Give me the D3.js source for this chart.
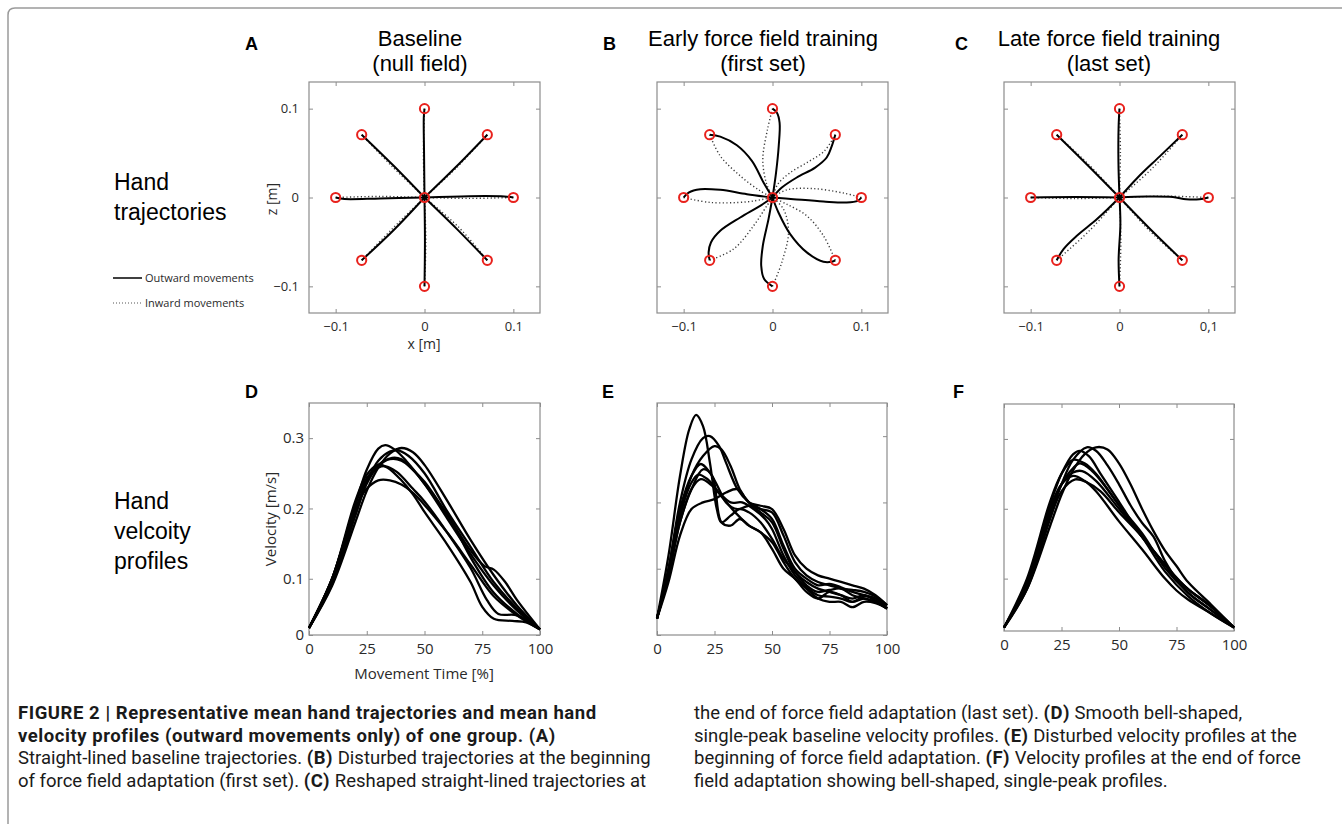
<!DOCTYPE html>
<html>
<head>
<meta charset="utf-8">
<script src="https://d3js.org/d3.v7.min.js"></script>
<style>
  body { margin: 0; background: #fff; }
  svg { display: block; }
</style>
</head>
<body>
<div id="chart"></div>
<script>
// ---- data ----
// targets in metres: centre + 8 around it
const targets = [[0, 0], [0, 0.1], [0.0707, 0.0707], [0.1, 0], [0.0707, -0.0707],
  [0, -0.1], [-0.0707, -0.0707], [-0.1, 0], [-0.0707, 0.0707]]

const trajTicks = [-0.1, 0, 0.1]
const trajLabels = ['\u22120.1', '0', '0.1']
const trajLabelsC = ['\u22120.1', '0', '0,1']

// A: baseline, outward (solid) and inward (dotted)
const outwardA = [
  [[0, 0], [-0.0005, 0.05], [-0.0008, 0.09], [0, 0.1]],
  [[0, 0], [0.035, 0.034], [0.0707, 0.0707]],
  [[0, 0], [0.05, 0.0015], [0.09, 0.0012], [0.1, 0]],
  [[0, 0], [0.036, -0.035], [0.0707, -0.0707]],
  [[0, 0], [0.0005, -0.05], [0, -0.1]],
  [[0, 0], [-0.034, -0.036], [-0.0707, -0.0707]],
  [[0, 0], [-0.05, -0.001], [-0.09, -0.0017], [-0.1, 0]],
  [[0, 0], [-0.035, 0.036], [-0.0707, 0.0707]]
]
const inwardA = [
  [[0, 0.1], [-0.0012, 0.05], [0, 0]],
  [[0.0707, 0.0707], [0.036, 0.0335], [0, 0]],
  [[0.1, 0], [0.05, -0.001], [0, 0]],
  [[0.0707, -0.0707], [0.038, -0.033], [0, 0]],
  [[0, -0.1], [0.0015, -0.05], [0, 0]],
  [[-0.0707, -0.0707], [-0.0355, -0.0345], [0, 0]],
  [[-0.1, 0], [-0.05, 0.0012], [0, 0]],
  [[-0.0707, 0.0707], [-0.0365, 0.035], [0, 0]]
]

// B: early force field
const outwardB = [
  [[0, 0], [0.004, 0.028], [0.007, 0.058], [0.008, 0.084], [0.005, 0.0955], [0, 0.1]],
  [[0, 0], [0.0105, 0.0112], [0.0273, 0.0225], [0.048, 0.0337], [0.061, 0.045], [0.0667, 0.0579], [0.0707, 0.0707]],
  [[0, 0], [0.0236, -0.0019], [0.0573, -0.0045], [0.0835, -0.0056], [0.0959, -0.0037], [0.1, 0]],
  [[0, 0], [0.0067, -0.0169], [0.0199, -0.0412], [0.0386, -0.0618], [0.0573, -0.0723], [0.0667, -0.0723], [0.0707, -0.0707]],
  [[0, 0], [-0.0045, -0.0243], [-0.0109, -0.0543], [-0.0127, -0.0768], [-0.0094, -0.0918], [0, -0.1]],
  [[0, 0], [-0.0139, -0.0094], [-0.0363, -0.0225], [-0.0588, -0.0375], [-0.0693, -0.0506], [-0.0719, -0.0618], [-0.0707, -0.0707]],
  [[0, 0], [-0.0288, 0.0037], [-0.0588, 0.0086], [-0.0813, 0.0094], [-0.0944, 0.0056], [-0.1, 0]],
  [[0, 0], [-0.0101, 0.0169], [-0.0232, 0.0412], [-0.0401, 0.0588], [-0.0588, 0.0685], [-0.0707, 0.0707]]
]
const inwardB = [
  [[0, 0.1], [-0.0056, 0.0768], [-0.0109, 0.0431], [-0.0071, 0.0169], [0, 0]],
  [[0.0707, 0.0707], [0.058, 0.052], [0.04, 0.04], [0.02, 0.028], [0.006, 0.015], [0, 0]],
  [[0.1, 0], [0.08, 0.005], [0.046, 0.01], [0.016, 0.0086], [0, 0]],
  [[0.0707, -0.0707], [0.0573, -0.043], [0.0386, -0.0206], [0.016, -0.0075], [0, 0]],
  [[0, -0.1], [0.0105, -0.073], [0.018, -0.039], [0.0124, -0.0131], [0, 0]],
  [[-0.0707, -0.0707], [-0.0438, -0.058], [-0.0213, -0.0318], [-0.0064, -0.0094], [0, 0]],
  [[-0.1, 0], [-0.07, -0.0056], [-0.0288, -0.0049], [-0.01, -0.0019], [0, 0]],
  [[-0.0707, 0.0707], [-0.0588, 0.0468], [-0.0363, 0.0243], [-0.0139, 0.0075], [0, 0]]
]

// C: late force field
const outwardC = [
  [[0, 0], [-0.0012, 0.04], [-0.001, 0.08], [0, 0.1]],
  [[0, 0], [0.02, 0.022], [0.045, 0.046], [0.0707, 0.0707]],
  [[0, 0], [0.03, 0.001], [0.06, 0.0005], [0.075, -0.002], [0.09, -0.002], [0.1, 0]],
  [[0, 0], [0.035, -0.036], [0.0707, -0.0707]],
  [[0, 0], [0.001, -0.03], [-0.001, -0.07], [0, -0.1]],
  [[0, 0], [-0.025, -0.024], [-0.048, -0.043], [-0.063, -0.058], [-0.0707, -0.0707]],
  [[0, 0], [-0.05, 0.0005], [-0.1, 0]],
  [[0, 0], [-0.035, 0.0355], [-0.0707, 0.0707]]
]
const inwardC = [
  [[0, 0.1], [0.001, 0.05], [0, 0]],
  [[0.0707, 0.0707], [0.037, 0.033], [0, 0]],
  [[0.1, 0], [0.05, 0.0015], [0, 0]],
  [[0.0707, -0.0707], [0.034, -0.0375], [0, 0]],
  [[0, -0.1], [0.0015, -0.05], [0, 0]],
  [[-0.0707, -0.0707], [-0.034, -0.0375], [0, 0]],
  [[-0.1, 0], [-0.05, -0.0012], [0, 0]],
  [[-0.0707, 0.0707], [-0.0345, 0.037], [0, 0]]
]

const timeTicks = [0, 25, 50, 75, 100]
const velTicks = [0.1, 0.2, 0.3]

// velocity profiles [time %, m/s]
const velD = [
  [[0, 0.03], [10, 0.10], [20, 0.205], [25, 0.255], [30, 0.285], [33, 0.29], [37, 0.284], [42, 0.268], [50, 0.235], [60, 0.185], [70, 0.135], [80, 0.09], [90, 0.055], [100, 0.028]],
  [[0, 0.03], [10, 0.09], [20, 0.18], [25, 0.225], [30, 0.258], [35, 0.278], [40, 0.286], [45, 0.28], [50, 0.262], [60, 0.21], [70, 0.155], [80, 0.105], [90, 0.062], [100, 0.028]],
  [[0, 0.03], [10, 0.095], [20, 0.19], [25, 0.238], [30, 0.268], [35, 0.281], [38, 0.283], [43, 0.275], [50, 0.25], [60, 0.195], [70, 0.145], [80, 0.095], [90, 0.058], [100, 0.028]],
  [[0, 0.03], [10, 0.095], [20, 0.195], [25, 0.24], [30, 0.262], [36, 0.272], [40, 0.27], [45, 0.255], [50, 0.235], [60, 0.19], [70, 0.14], [76, 0.118], [80, 0.113], [85, 0.095], [90, 0.07], [100, 0.028]],
  [[0, 0.03], [10, 0.10], [20, 0.205], [25, 0.243], [30, 0.258], [33, 0.26], [38, 0.252], [45, 0.228], [50, 0.21], [60, 0.165], [70, 0.115], [77, 0.07], [82, 0.05], [90, 0.048], [100, 0.028]],
  [[0, 0.03], [10, 0.10], [20, 0.21], [25, 0.248], [30, 0.262], [34, 0.258], [40, 0.24], [45, 0.22], [50, 0.195], [60, 0.148], [70, 0.095], [75, 0.06], [80, 0.043], [88, 0.04], [94, 0.038], [100, 0.028]],
  [[0, 0.03], [10, 0.10], [20, 0.2], [25, 0.228], [30, 0.24], [35, 0.24], [40, 0.234], [45, 0.222], [50, 0.205], [60, 0.165], [70, 0.12], [80, 0.075], [90, 0.048], [100, 0.028]],
  [[0, 0.03], [10, 0.092], [20, 0.19], [25, 0.235], [30, 0.26], [35, 0.27], [40, 0.268], [45, 0.255], [50, 0.238], [55, 0.215], [62, 0.18], [70, 0.13], [80, 0.08], [90, 0.05], [100, 0.028]]
]
const velE = [
  [[0, 0.025], [5, 0.12], [10, 0.24], [14, 0.31], [17, 0.332], [20, 0.315], [23, 0.26], [26, 0.19], [28, 0.17], [32, 0.18], [36, 0.19], [40, 0.185], [45, 0.17], [50, 0.145], [55, 0.115], [60, 0.095], [65, 0.075], [70, 0.065], [75, 0.068], [80, 0.07], [85, 0.06], [90, 0.055], [95, 0.05], [100, 0.04]],
  [[0, 0.025], [5, 0.1], [10, 0.2], [15, 0.265], [20, 0.297], [23, 0.3], [27, 0.285], [30, 0.26], [35, 0.22], [40, 0.2], [45, 0.19], [50, 0.175], [55, 0.135], [60, 0.1], [65, 0.085], [70, 0.075], [75, 0.077], [80, 0.072], [85, 0.065], [90, 0.06], [95, 0.055], [100, 0.045]],
  [[0, 0.025], [5, 0.09], [10, 0.18], [15, 0.24], [20, 0.27], [25, 0.285], [28, 0.28], [32, 0.255], [36, 0.22], [40, 0.2], [45, 0.185], [50, 0.17], [55, 0.13], [60, 0.095], [65, 0.08], [70, 0.07], [75, 0.065], [80, 0.06], [85, 0.055], [90, 0.06], [95, 0.052], [100, 0.04]],
  [[0, 0.025], [5, 0.1], [10, 0.19], [15, 0.24], [19, 0.258], [23, 0.245], [27, 0.22], [30, 0.2], [35, 0.19], [40, 0.195], [45, 0.19], [50, 0.185], [55, 0.15], [60, 0.11], [65, 0.09], [70, 0.08], [75, 0.075], [80, 0.07], [85, 0.068], [90, 0.065], [95, 0.058], [100, 0.045]],
  [[0, 0.025], [5, 0.095], [10, 0.18], [15, 0.23], [18, 0.242], [22, 0.235], [27, 0.215], [32, 0.2], [37, 0.2], [42, 0.19], [47, 0.175], [50, 0.16], [55, 0.12], [60, 0.09], [65, 0.072], [70, 0.06], [75, 0.058], [80, 0.055], [85, 0.05], [90, 0.058], [95, 0.055], [100, 0.04]],
  [[0, 0.025], [5, 0.09], [10, 0.17], [15, 0.22], [19, 0.235], [24, 0.225], [29, 0.205], [34, 0.185], [40, 0.165], [45, 0.155], [50, 0.13], [55, 0.1], [60, 0.085], [65, 0.065], [70, 0.055], [75, 0.065], [80, 0.06], [85, 0.05], [90, 0.055], [95, 0.05], [100, 0.04]],
  [[0, 0.025], [5, 0.08], [10, 0.15], [15, 0.19], [20, 0.2], [25, 0.205], [30, 0.215], [35, 0.22], [40, 0.2], [45, 0.195], [50, 0.19], [55, 0.16], [60, 0.12], [65, 0.1], [70, 0.09], [75, 0.085], [80, 0.08], [85, 0.075], [90, 0.07], [95, 0.06], [100, 0.045]],
  [[0, 0.025], [5, 0.09], [10, 0.17], [15, 0.22], [20, 0.25], [24, 0.24], [28, 0.17], [32, 0.165], [36, 0.175], [40, 0.165], [45, 0.155], [50, 0.14], [55, 0.11], [60, 0.085], [65, 0.07], [70, 0.055], [75, 0.05], [80, 0.05], [85, 0.042], [90, 0.05], [95, 0.048], [100, 0.04]]
]
const velF = [
  [[0, 0.03], [10, 0.085], [20, 0.175], [25, 0.22], [30, 0.255], [35, 0.278], [40, 0.288], [45, 0.285], [50, 0.265], [55, 0.235], [60, 0.2], [65, 0.168], [70, 0.14], [75, 0.118], [80, 0.095], [90, 0.063], [100, 0.03]],
  [[0, 0.03], [10, 0.09], [20, 0.19], [25, 0.235], [30, 0.27], [36, 0.288], [40, 0.283], [45, 0.262], [50, 0.235], [55, 0.205], [60, 0.18], [65, 0.16], [70, 0.125], [75, 0.1], [80, 0.085], [90, 0.06], [100, 0.03]],
  [[0, 0.03], [10, 0.095], [20, 0.205], [25, 0.25], [30, 0.278], [33, 0.283], [37, 0.275], [42, 0.25], [50, 0.21], [60, 0.16], [70, 0.12], [75, 0.1], [80, 0.085], [90, 0.06], [100, 0.03]],
  [[0, 0.03], [10, 0.1], [20, 0.21], [25, 0.25], [30, 0.27], [35, 0.265], [40, 0.25], [50, 0.205], [60, 0.165], [70, 0.115], [80, 0.08], [90, 0.055], [100, 0.03]],
  [[0, 0.03], [10, 0.09], [20, 0.19], [25, 0.235], [30, 0.258], [33, 0.265], [38, 0.255], [45, 0.228], [50, 0.205], [60, 0.16], [70, 0.11], [80, 0.075], [90, 0.05], [100, 0.03]],
  [[0, 0.03], [10, 0.092], [20, 0.195], [25, 0.235], [30, 0.252], [34, 0.254], [40, 0.24], [50, 0.2], [60, 0.16], [70, 0.12], [80, 0.08], [90, 0.055], [100, 0.03]],
  [[0, 0.03], [10, 0.095], [20, 0.2], [25, 0.235], [30, 0.247], [35, 0.24], [40, 0.225], [50, 0.182], [60, 0.142], [70, 0.1], [75, 0.083], [80, 0.07], [90, 0.05], [100, 0.03]],
  [[0, 0.03], [10, 0.085], [20, 0.185], [25, 0.225], [31, 0.242], [36, 0.238], [42, 0.225], [50, 0.195], [60, 0.16], [70, 0.12], [80, 0.085], [90, 0.06], [100, 0.03]]
]

const titles = [
  { letter: 'A', lines: ['Baseline', '(null field)'] },
  { letter: 'B', lines: ['Early force field training', '(first set)'] },
  { letter: 'C', lines: ['Late force field training', '(last set)'] }
]

const captionLeft = [
  [['FIGURE 2 | Representative mean hand trajectories and mean hand', true]],
  [['velocity profiles (outward movements only) of one group. (A)', true]],
  [['Straight-lined baseline trajectories. ', false], ['(B)', true], [' Disturbed trajectories at the beginning', false]],
  [['of force field adaptation (first set). ', false], ['(C)', true], [' Reshaped straight-lined trajectories at', false]]
]
const captionRight = [
  [['the end of force field adaptation (last set). ', false], ['(D)', true], [' Smooth bell-shaped,', false]],
  [['single-peak baseline velocity profiles. ', false], ['(E)', true], [' Disturbed velocity profiles at the', false]],
  [['beginning of force field adaptation. ', false], ['(F)', true], [' Velocity profiles at the end of force', false]],
  [['field adaptation showing bell-shaped, single-peak profiles.', false]]
]

// ---- drawing ----
const width = 1342, height = 824
const sans = 'Liberation Sans, Arial, Helvetica, sans-serif'
const tickFont = 'Open Sans, Noto Sans, sans-serif'

const svg = d3.select('#chart').append('svg')
  .attr('width', width)
  .attr('height', height)

svg.append('rect').attr('width', width).attr('height', height).attr('fill', '#fff')

// outer figure border
svg.append('path')
  .attr('d', `M8,${height + 5} L8,15 Q8,8 15,8 L${width + 5},8`)
  .attr('fill', 'none')
  .attr('stroke', '#9a9a9a')
  .attr('stroke-width', 1.5)

function drawFrame(g, x, y, opt) {
  const [x0, x1] = x.range()
  const [y1, y0] = y.range()

  g.append('g').attr('transform', `translate(0,${y1})`)
    .call(d3.axisBottom(x).tickValues(opt.xTicks).tickSize(-4).tickPadding(opt.xPad)
      .tickFormat((d, i) => opt.xLabels ? opt.xLabels[i] : ''))
  g.append('g').attr('transform', `translate(0,${y0})`)
    .call(d3.axisTop(x).tickValues(opt.xTicks).tickSize(-4).tickFormat(''))
  g.append('g').attr('transform', `translate(${x0},0)`)
    .call(d3.axisLeft(y).tickValues(opt.yTicks).tickSize(-4).tickPadding(opt.yPad)
      .tickFormat((d, i) => opt.yLabels ? opt.yLabels[i] : ''))
  g.append('g').attr('transform', `translate(${x1},0)`)
    .call(d3.axisRight(y).tickValues(opt.yTicks).tickSize(-4).tickFormat(''))

  g.selectAll('.domain').remove()
  g.selectAll('.tick line').attr('stroke', '#8c8c8c')
  g.selectAll('.tick text')
    .attr('fill', '#2a2a2a')
    .attr('font-family', tickFont)
    .attr('font-size', opt.fontSize)

  g.append('rect')
    .attr('x', x0).attr('y', y0)
    .attr('width', x1 - x0).attr('height', y1 - y0)
    .attr('fill', 'none')
    .attr('stroke', '#8c8c8c')
    .attr('stroke-width', 1.2)
}

// trajectory panels
const trajPanels = [
  { x: 309, out: outwardA, inw: inwardA, xLabels: trajLabels, yLabels: trajLabels },
  { x: 657, out: outwardB, inw: inwardB, xLabels: trajLabels, yLabels: null },
  { x: 1004, out: outwardC, inw: inwardC, xLabels: trajLabelsC, yLabels: null }
]

trajPanels.forEach(p => {
  const g = svg.append('g')
  const x = d3.scaleLinear().domain([-0.13, 0.13]).range([p.x, p.x + 231])
  const y = d3.scaleLinear().domain([-0.13, 0.13]).range([313, 82])

  drawFrame(g, x, y, {
    xTicks: trajTicks, yTicks: trajTicks,
    xLabels: p.xLabels, yLabels: p.yLabels,
    xPad: 9, yPad: 10, fontSize: 13
  })

  const line = d3.line().x(d => x(d[0])).y(d => y(d[1])).curve(d3.curveCatmullRom.alpha(0.5))

  g.append('g').selectAll('path')
    .data(p.inw)
    .join('path')
    .attr('d', line)
    .attr('fill', 'none')
    .attr('stroke', '#3a3a3a')
    .attr('stroke-width', 1.4)
    .attr('stroke-dasharray', '1.2,2.4')

  g.append('g').selectAll('path')
    .data(p.out)
    .join('path')
    .attr('d', line)
    .attr('fill', 'none')
    .attr('stroke', '#000')
    .attr('stroke-width', 2)

  g.append('g').selectAll('circle')
    .data(targets)
    .join('circle')
    .attr('cx', d => x(d[0]))
    .attr('cy', d => y(d[1]))
    .attr('r', 4.6)
    .attr('fill', 'none')
    .attr('stroke', '#e8211c')
    .attr('stroke-width', 2)
})

// velocity panels
const velPanels = [
  { x: 309, w: 231, top: 403, bottom: 635, domain: [0.02, 0.35], data: velD, ticks: [0.02].concat(velTicks), yLabels: ['0', '0.1', '0.2', '0.3'] },
  { x: 657, w: 230, top: 403, bottom: 635, domain: [0, 0.35], data: velE, ticks: [0].concat(velTicks), yLabels: null },
  { x: 1004, w: 230, top: 404, bottom: 631, domain: [0.025, 0.35], data: velF, ticks: velTicks, yLabels: null }
]

velPanels.forEach(p => {
  const g = svg.append('g')
  const x = d3.scaleLinear().domain([0, 100]).range([p.x, p.x + p.w])
  const y = d3.scaleLinear().domain(p.domain).range([p.bottom, p.top])

  drawFrame(g, x, y, {
    xTicks: timeTicks, yTicks: p.ticks,
    xLabels: timeTicks.map(String), yLabels: p.yLabels,
    xPad: 8, yPad: 5, fontSize: 15
  })

  const line = d3.line().x(d => x(d[0])).y(d => y(d[1])).curve(d3.curveCatmullRom.alpha(0.5))

  g.append('g').selectAll('path')
    .data(p.data)
    .join('path')
    .attr('d', line)
    .attr('fill', 'none')
    .attr('stroke', '#000')
    .attr('stroke-width', 2.3)
})

// axis labels
svg.append('text').attr('x', 424).attr('y', 349)
  .attr('text-anchor', 'middle').attr('font-family', tickFont).attr('font-size', 14).attr('fill', '#2a2a2a')
  .text('x [m]')
svg.append('text').attr('transform', 'translate(277,199) rotate(-90)')
  .attr('text-anchor', 'middle').attr('font-family', tickFont).attr('font-size', 14).attr('fill', '#2a2a2a')
  .text('z [m]')
svg.append('text').attr('x', 424).attr('y', 679)
  .attr('text-anchor', 'middle').attr('font-family', tickFont).attr('font-size', 15).attr('fill', '#2a2a2a')
  .text('Movement Time [%]')
svg.append('text').attr('transform', 'translate(276,519) rotate(-90)')
  .attr('text-anchor', 'middle').attr('font-family', tickFont).attr('font-size', 15).attr('fill', '#2a2a2a')
  .text('Velocity [m/s]')

// column titles and panel letters
const titleX = [420, 763, 1109]
const letterX = [245, 603, 955]
titles.forEach((t, i) => {
  svg.append('text').attr('x', letterX[i]).attr('y', 50)
    .attr('font-family', sans).attr('font-weight', 'bold').attr('font-size', 18)
    .text(t.letter)
  t.lines.forEach((l, j) => {
    svg.append('text').attr('x', titleX[i]).attr('y', 46 + j * 25)
      .attr('text-anchor', 'middle').attr('font-family', sans).attr('font-size', 22)
      .text(l)
  })
})
;['D', 'E', 'F'].forEach((l, i) => {
  svg.append('text').attr('x', [245, 602, 953][i]).attr('y', 398)
    .attr('font-family', sans).attr('font-weight', 'bold').attr('font-size', 18)
    .text(l)
})

// row labels
const rowLabels = [
  { y: 190, lines: ['Hand', 'trajectories'] },
  { y: 509, lines: ['Hand', 'velcoity', 'profiles'] }
]
rowLabels.forEach(r => {
  r.lines.forEach((l, j) => {
    svg.append('text').attr('x', 114).attr('y', r.y + j * 30)
      .attr('font-family', sans).attr('font-size', 23)
      .text(l)
  })
})

// legend
const legend = svg.append('g').attr('font-family', tickFont).attr('font-size', 11).attr('fill', '#2a2a2a')
legend.append('line').attr('x1', 113).attr('x2', 142).attr('y1', 278).attr('y2', 278)
  .attr('stroke', '#000').attr('stroke-width', 1.5)
legend.append('text').attr('x', 145).attr('y', 282).text('Outward movements')
legend.append('line').attr('x1', 113).attr('x2', 142).attr('y1', 303).attr('y2', 303)
  .attr('stroke', '#555').attr('stroke-width', 1).attr('stroke-dasharray', '1,2')
legend.append('text').attr('x', 145).attr('y', 307).text('Inward movements')

// caption
function caption(lines, x0) {
  lines.forEach((parts, i) => {
    const t = svg.append('text')
      .attr('x', x0).attr('y', 719 + i * 22.7)
      .attr('font-family', 'Roboto, Liberation Sans Narrow, sans-serif')
      .attr('font-size', 18.5)
      .attr('fill', '#1a1a1a')
    parts.forEach(p => {
      t.append('tspan')
        .attr('font-weight', p[1] ? 'bold' : 'normal')
        .attr('letter-spacing', p[1] ? 0.55 : 0)
        .text(p[0])
    })
  })
}
caption(captionLeft, 18)
caption(captionRight, 694)
</script>
</body>
</html>
